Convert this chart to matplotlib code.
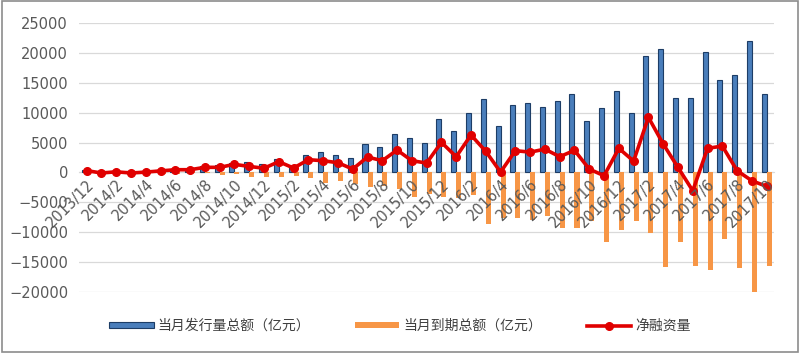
import numpy as np
import matplotlib
matplotlib.use("Agg")
import matplotlib.pyplot as plt
from matplotlib.patches import Rectangle

plt.rcParams['font.family'] = ['Noto Sans CJK SC', 'DejaVu Sans']

# month labels 2013/12 .. 2017/10
months = ['2013/12'] + [f'{y}/{m}' for y in (2014, 2015, 2016) for m in range(1, 13)] \
    + [f'2017/{m}' for m in range(1, 11)]

# 当月发行量总额 (亿元)
issue = [340, 100, 300, 200, 300, 450, 650, 600, 1000, 1250, 1600, 1700, 1400,
         2300, 1150, 3000, 3500, 3000, 2450, 4800, 4300, 6450, 5800, 5000, 8950,
         6950, 9950, 12250, 7800, 11250, 11600, 10900, 11950, 13100, 8600, 10800, 13600,
         9900, 19450, 20700, 12450, 12450, 20250, 15550, 16300, 22100, 13100]

# 当月到期总额 (亿元)
mature = [0, -200, -200, -300, -250, -200, -200, -150, -150, -400, -300, -700, -700,
          -800, -650, -1000, -1750, -1500, -2000, -2500, -2250, -2800, -4100, -3650, -4100,
          -4300, -3800, -8700, -7700, -7600, -7900, -7300, -9400, -9400, -8100, -11700, -9700,
          -8100, -10100, -15850, -11700, -15750, -16300, -11250, -16050, -23500, -15700]

# 净融资量
net = [300, -100, 100, -100, 50, 250, 450, 450, 850, 850, 1350, 1000, 700,
       1800, 730, 2130, 1960, 1620, 560, 2580, 1960, 3750, 1960, 1570, 5040,
       2630, 6270, 3530, 50, 3640, 3400, 3900, 2630, 3700, 560, -560, 4030,
       1900, 9240, 4760, 840, -3080, 4030, 4420, 280, -1400, -2350]

x = np.arange(len(months))
w = 0.34

fig = plt.figure(figsize=(8, 3.53), dpi=100)
ax = fig.add_axes([0.099, 0.1737, 0.8686, 0.7603])

b1 = ax.bar(x - w / 2, issue, width=w, color='#4a7ebb', edgecolor='#1d3d66', linewidth=0.8,
            label='当月发行量总额（亿元）', zorder=2)
b2 = ax.bar(x + w / 2, mature, width=w, color='#f79646', linewidth=0,
            label='当月到期总额（亿元）', zorder=2)
ln, = ax.plot(x, net, color='#e00000', linewidth=2.6, marker='o', markersize=5.5,
              label='净融资量', zorder=3)

ax.set_xlim(-0.5, len(months) - 0.5)
ax.set_ylim(-20000, 25000)
ax.set_yticks(range(-20000, 25001, 5000))
ax.grid(axis='y', color='#d9d9d9', linewidth=0.9)
ax.set_axisbelow(True)
# category labels sit on top of the bars, like the excel original
ax.xaxis.set_zorder(4)

for s in ['top', 'right', 'left']:
    ax.spines[s].set_visible(False)
ax.spines['bottom'].set_position(('data', 0))
ax.spines['bottom'].set_color('#d9d9d9')
ax.spines['bottom'].set_zorder(1)

ax.set_xticks(x[::2])
ax.set_xticklabels(months[::2], rotation=45, ha='right', va='top',
                   rotation_mode='anchor', fontsize=10.5, color='#595959',
                   family='DejaVu Sans')
ax.tick_params(axis='x', length=0, pad=3)
ax.tick_params(axis='y', length=0, labelsize=10.5, labelcolor='#595959', pad=8)
for t in ax.get_yticklabels():
    t.set_family('DejaVu Sans')

fig.legend([b1, b2, ln], [b1.get_label(), b2.get_label(), ln.get_label()],
           loc='center', bbox_to_anchor=(0.5, 0.077), ncol=3, frameon=False,
           fontsize=10, handlelength=3.2, handleheight=0.35, columnspacing=3.2,
           handletextpad=0.3, labelcolor='#404040')

fig.patches.append(Rectangle((0.002, 0.003), 0.996, 0.994, transform=fig.transFigure,
                             fill=False, edgecolor='#8c8c8c', linewidth=1.2))

fig.savefig('out.png', dpi=100)
